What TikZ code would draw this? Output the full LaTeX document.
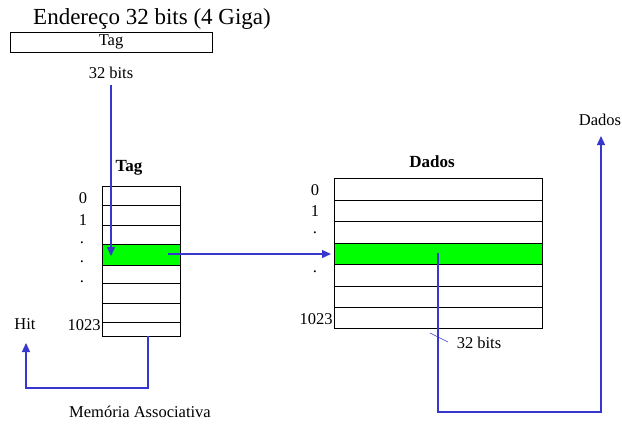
\documentclass[tikz,border=0pt]{standalone}
\usepackage{fontspec}
\setmainfont{Liberation Serif}
\usetikzlibrary{arrows.meta}
\definecolor{arrblue}{RGB}{55,55,205}
\definecolor{rowgreen}{RGB}{0,255,0}
\tikzset{
  lbl/.style={inner sep=0pt, font=\fontsize{16.5}{18}\selectfont},
  blbl/.style={inner sep=0pt, font=\fontsize{17}{19}\selectfont\bfseries},
  conn/.style={draw=arrblue, line width=1.3pt},
  arr/.style={conn, -{Triangle[length=9pt,width=8pt]}},
  row/.style={draw=black, line width=0.6pt, inner sep=0pt, anchor=north west},
}
\begin{document}
\begin{tikzpicture}[x=1pt,y=-1pt]
\useasboundingbox (0,0) rectangle (622,424);
% address
\node[inner sep=0pt, font=\fontsize{23}{26}\selectfont] (title) at (152,19) {Endereço 32 bits (4 Giga)};
\node[draw, line width=0.6pt, minimum width=202pt, minimum height=20pt, inner sep=0pt, anchor=north west] (addr) at (10,32) {};
\node[lbl] (addrtag) at (111,42) {Tag};
\node[lbl] (b32a) at (111,73) {32 bits};
% Tag table
\node[blbl] (tagT) at (129,168) {Tag};
\foreach \y/\h/\n in {186/19/t0,205/20/t1,225/19/t2,244/21/tg,265/18/t4,283/20/t5,303/19/t6,322/14/t7}{
  \node[row, minimum width=78pt, minimum height=\h pt] (\n) at (102,\y) {};
}
\fill[rowgreen] (tg.north west) rectangle (tg.south east);
\draw[line width=0.6pt] (tg.north west) rectangle (tg.south east);
\node[lbl] (tl0) at (83,198) {0};
\node[lbl] (tl1) at (83,220) {1};
\node[lbl] (tld1) at (82,243) {.};
\node[lbl] (tld2) at (82,262) {.};
\node[lbl] (tld3) at (82,282) {.};
\node[lbl] (tl1023) at (84,325) {1023};
\node[lbl] (hit) at (25,324) {Hit};
% Dados table
\node[blbl] (dT) at (432,162) {Dados};
\foreach \y/\h/\n in {178/22/d0,200/21/d1,221/22/d2,243/21/dg,264/22/d4,286/21/d5,307/21/d6}{
  \node[row, minimum width=208pt, minimum height=\h pt] (\n) at (334,\y) {};
}
\fill[rowgreen] (dg.north west) rectangle (dg.south east);
\draw[line width=1pt] (dg.north west) rectangle (dg.south east);
\draw[line width=1pt] (d1.north west) -- (d1.north east);
\draw[line width=1pt] (d5.north west) -- (d5.north east);
\node[lbl] (dl0) at (315,190) {0};
\node[lbl] (dl1) at (315,211) {1};
\node[lbl] (dld1) at (315,233) {.};
\node[lbl] (dld2) at (315,272) {.};
\node[lbl] (dl1023) at (316,319) {1023};
\node[lbl] (b32b) at (479,343) {32 bits};
\node[lbl] (dout) at (600,120) {Dados};
\node[lbl] (mem) at (140,412) {Memória Associativa};
% connectors
\coordinate (a0) at (111,85);
\coordinate (a1) at (111,256);
\draw[arr] (a0) -- (a1);
\coordinate (h0) at (168,254);
\coordinate (h1) at (331,254);
\draw[arr] (h0) -- (h1);
\coordinate (hs) at (148,336);
\coordinate (he) at (26,343);
\draw[arr] (hs) -- (148,388) -- (26,388) -- (he);
\coordinate (ds) at (438,253);
\coordinate (de) at (601,136);
\draw[arr] (ds) -- (438,412) -- (601,412) -- (de);
\coordinate (lk0) at (430,333);
\coordinate (lk1) at (448,342);
\draw[draw=arrblue, line width=0.6pt] (lk0) -- (lk1);
\end{tikzpicture}
\end{document}
